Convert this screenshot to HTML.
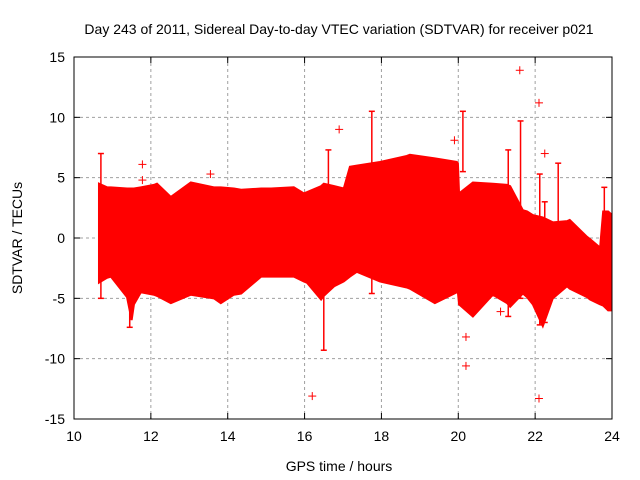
<!DOCTYPE html>
<html><head><meta charset="utf-8"><style>
body{margin:0;background:#fff}
svg{display:block;font-family:"Liberation Sans",Arial,sans-serif;font-size:14px}
</style></head><body>
<svg id="c" width="640" height="480" xmlns="http://www.w3.org/2000/svg">
<text x="339" y="34" text-anchor="middle">Day 243 of 2011, Sidereal Day-to-day VTEC variation (SDTVAR) for receiver p021</text>
<text x="339" y="471" text-anchor="middle">GPS time / hours</text>
<text transform="translate(22,238) rotate(-90)" text-anchor="middle">SDTVAR / TECUs</text>
</svg>
<script>
const xTicks=[10,12,14,16,18,20,22,24];
const yTicks=[-15,-10,-5,0,5,10,15];
const envHours=[10.65,10.86,10.96,11.38,11.5,11.56,11.74,12.08,12.16,12.52,13.04,13.64,13.82,14.16,14.35,14.87,15.13,15.72,15.98,16.06,16.43,16.5,16.77,17.02,17.18,17.36,17.96,18.66,18.74,19.39,19.96,19.99,20.02,20.38,20.9,21.27,21.35,21.68,21.79,21.94,22.2,22.46,22.83,22.9,23.35,23.43,23.69,23.77,23.9,23.97];
const envUpper=[4.5,4.2,4.2,4.1,4.1,4.1,4.2,4.4,4.5,3.4,4.6,4.2,4.2,4.1,4.0,4.1,4.1,4.2,3.7,3.8,4.3,4.5,4.3,4.1,5.9,6.0,6.3,6.8,6.9,6.6,6.3,6.2,3.7,4.6,4.5,4.4,4.3,2.3,2.2,1.9,1.7,1.3,1.4,1.5,0.1,-0.1,-0.8,2.2,2.2,2.0];
const envLower=[-3.7,-3.3,-3.2,-4.9,-6.8,-5.5,-4.5,-4.7,-4.8,-5.4,-4.7,-5.0,-5.4,-4.7,-4.6,-3.2,-3.2,-3.2,-3.6,-3.7,-5.1,-4.8,-4.0,-3.6,-3.2,-2.8,-3.6,-4.1,-4.2,-5.4,-4.5,-4.5,-5.5,-6.5,-4.7,-5.4,-5.7,-4.6,-4.9,-5.5,-7.3,-5.0,-4.0,-4.2,-4.9,-5.1,-5.5,-5.6,-6.0,-6.0];
const spikeHours=[10.7,11.45,16.5,16.62,17.75,20.12,21.3,21.62,22.12,22.25,22.6,23.8];
const spikeTop=[7.0,-4.0,-3.0,7.3,10.5,10.5,7.3,9.7,5.3,3.0,6.2,4.2];
const spikeBottom=[-5.0,-7.4,-9.3,-4.0,-4.6,5.5,-6.5,-5.0,-7.2,-7.0,-1.0,-5.5];
const pointHours=[11.78,11.78,13.55,16.9,19.9,20.2,20.2,16.2,21.6,22.1,22.1,22.25,12.0,21.1];
const pointValues=[6.1,4.8,5.3,9.0,8.1,-8.2,-10.6,-13.1,13.9,11.2,-13.3,7.0,-4.3,-6.1];
const X0=74,X1=612,Y0=57,Y1=419;
const sx=h=>X0+(h-10)/(24-10)*(X1-X0);
const sy=v=>Y1-(v+15)/30*(Y1-Y0);
const svg=document.getElementById('c');
const NS='http://www.w3.org/2000/svg';
function mk(t,a){const e=document.createElementNS(NS,t);for(const k in a)e.setAttribute(k,a[k]);svg.appendChild(e);return e;}
xTicks.forEach(t=>{
 const x=sx(t);
 if(t>10&&t<24){const g=mk('line',{x1:x,x2:x,y1:Y0,y2:Y1,stroke:'#a0a0a0','stroke-dasharray':'3,3'});
 
 }
 const l=mk('text',{x:x,y:Y1+22,'text-anchor':'middle'});l.textContent=t;
 
 
 mk('line',{x1:x,x2:x,y1:Y1,y2:Y1-6,stroke:'#000'});mk('line',{x1:x,x2:x,y1:Y0,y2:Y0+6,stroke:'#000'});
});
yTicks.forEach(t=>{
 const y=sy(t);
 if(t>-15&&t<15){const g=mk('line',{x1:X0,x2:X1,y1:y,y2:y,stroke:'#a0a0a0','stroke-dasharray':'3,3'});
 
 }
 const l=mk('text',{x:X0-9,y:y+5,'text-anchor':'end'});l.textContent=t;
 
 
 mk('line',{x1:X0,x2:X0+6,y1:y,y2:y,stroke:'#000'});mk('line',{x1:X1,x2:X1-6,y1:y,y2:y,stroke:'#000'});
});
let pts=envHours.map((h,i)=>sx(h)+','+sy(envUpper[i]));
for(let i=envHours.length-1;i>=0;i--)pts.push(sx(envHours[i])+','+sy(envLower[i]));
const poly=mk('polygon',{points:pts.join(' '),fill:'#ff0000',stroke:'#ff0000','stroke-width':2});


spikeHours.forEach((h,i)=>{
 const x=sx(h);
 const s=mk('line',{x1:x,x2:x,y1:sy(spikeTop[i]),y2:sy(spikeBottom[i]),stroke:'#ff0000','stroke-width':1.5});
 
 
 [spikeTop[i],spikeBottom[i]].forEach(v=>mk('line',{x1:x-3,x2:x+3,y1:sy(v),y2:sy(v),stroke:'#ff0000','stroke-width':1.5}));
});
pointHours.forEach((h,i)=>{
 const x=sx(h),y=sy(pointValues[i]);
 const g=document.createElementNS(NS,'g');svg.appendChild(g);
 
 
 [[x-4,y,x+4,y],[x,y-4,x,y+4]].forEach(c=>{const l=document.createElementNS(NS,'line');l.setAttribute('x1',c[0]);l.setAttribute('y1',c[1]);l.setAttribute('x2',c[2]);l.setAttribute('y2',c[3]);l.setAttribute('stroke','#ff0000');g.appendChild(l);});
});
const b=mk('rect',{x:X0,y:Y0,width:X1-X0,height:Y1-Y0,fill:'none',stroke:'#000','stroke-width':1});


</script>
</body></html>
